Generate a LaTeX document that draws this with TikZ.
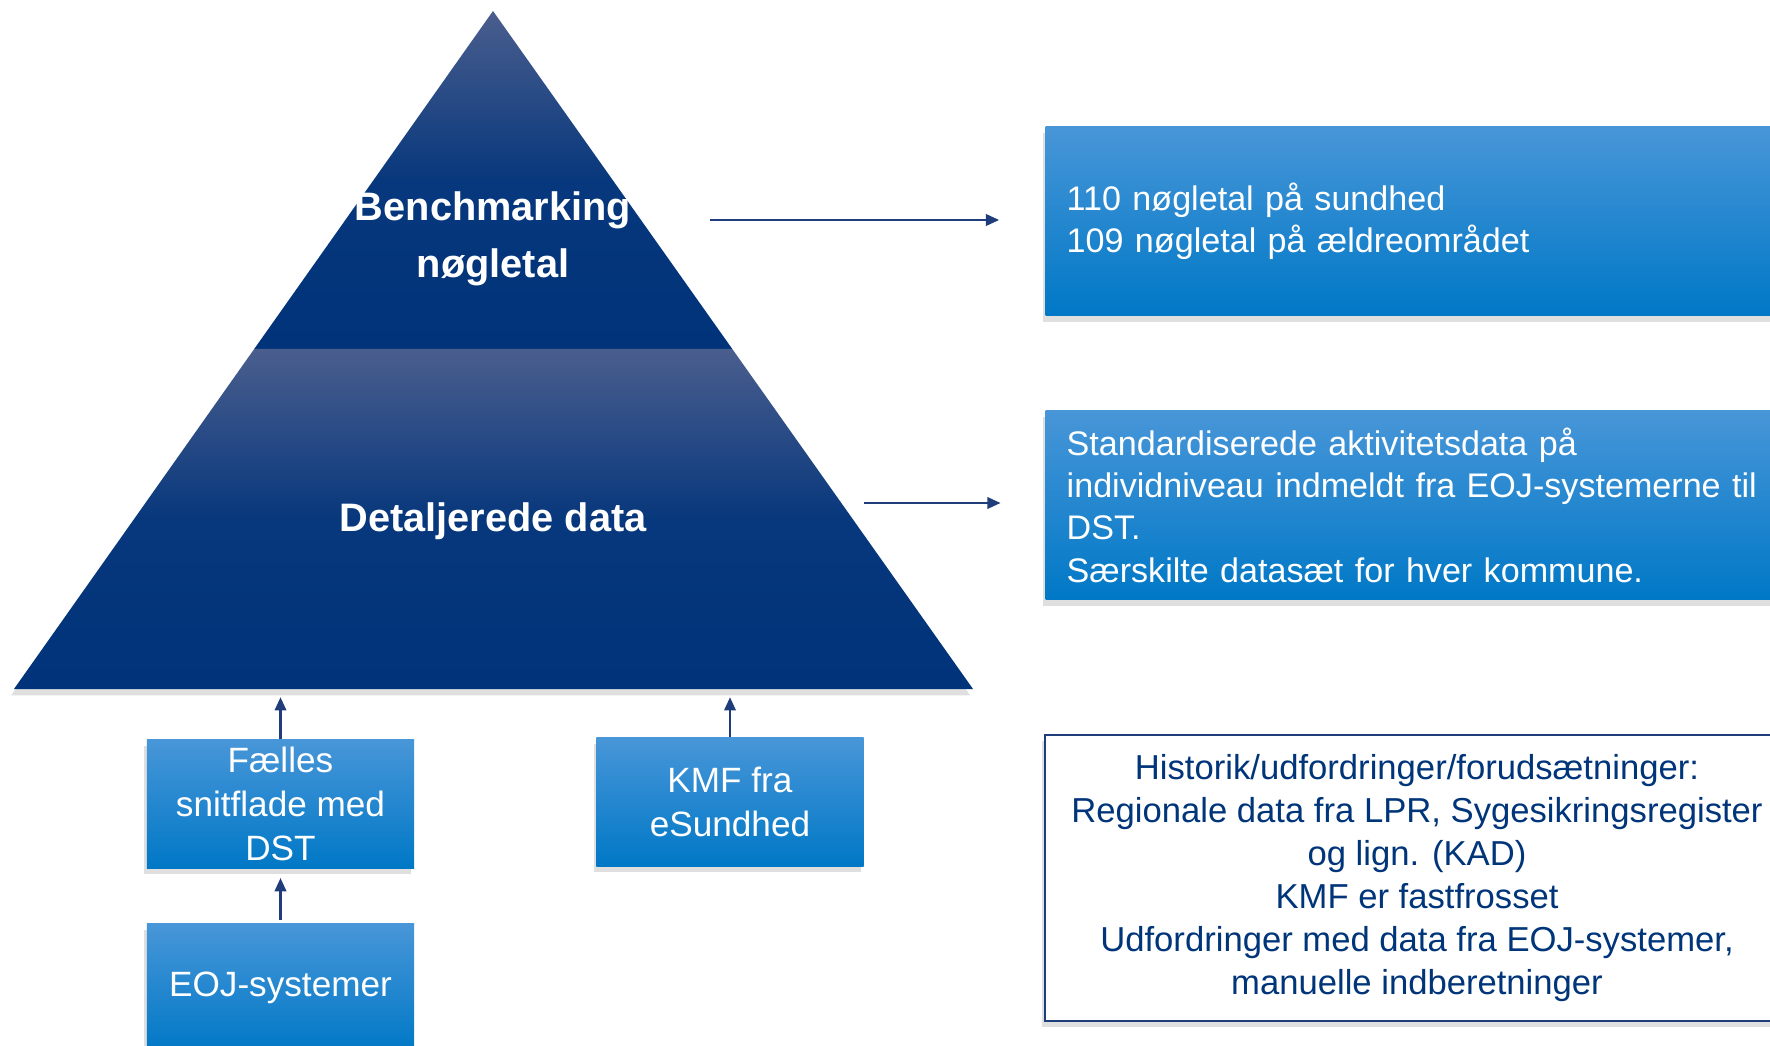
\documentclass[tikz,border=0pt]{standalone}
\usepackage{fontspec}
\setmainfont{Liberation Sans}
\usetikzlibrary{arrows.meta,calc,shadows}
\definecolor{pyrdark}{RGB}{0,51,122}
\definecolor{pyrlight}{RGB}{74,94,142}
\definecolor{boxtop}{RGB}{72,150,216}
\definecolor{boxbot}{RGB}{0,120,198}
\definecolor{linkblue}{RGB}{31,61,122}
\definecolor{notetext}{RGB}{0,53,122}
\tikzset{
    softshadow/.style={drop shadow={shadow xshift=-0.8pt,shadow yshift=-1.8pt,opacity=0.25}},
    level/.style={softshadow,top color=pyrlight,bottom color=pyrdark,middle color=pyrdark!90!pyrlight},
    leveltext/.style={text=white,align=center,font=\fontsize{11.3}{16.2}\selectfont\bfseries},
    infobox/.style={anchor=north west,minimum width=7.6cm,minimum height=1.89cm,text width=7.2cm,
        inner xsep=0.21cm,align=left,text=white,top color=boxtop,bottom color=boxbot,
        font=\fontsize{9.7}{12}\selectfont,softshadow},
    srcbox/.style={minimum width=2.67cm,minimum height=1.28cm,inner sep=0pt,align=center,text=white,
        top color=boxtop,bottom color=boxbot,font=\fontsize{10}{12.5}\selectfont,softshadow},
    notebox/.style={minimum width=7.44cm,minimum height=2.86cm,inner sep=0pt,align=center,text=notetext,
        fill=white,draw=linkblue,line width=0.6pt,font=\fontsize{9.85}{12.2}\selectfont,softshadow},
    link/.style={-{Triangle[length=3.8pt,width=3.2pt]},line width=0.8pt,linkblue}
}
\begin{document}
\begin{tikzpicture}[x=0.01cm,y=-0.01cm]
    \useasboundingbox (0,0) rectangle (1770,1046);
    % Pyramid corners
    \coordinate (apex) at (493,11);
    \coordinate (baseL) at (14,689);
    \coordinate (baseR) at (973,689);
    \coordinate (divL) at ($(apex)!0.4985!(baseL)$);
    \coordinate (divR) at ($(apex)!0.4985!(baseR)$);
    % Top level
    \shade[level] (apex) -- (divR) -- (divL) -- cycle;
    \node[leveltext] (bench) at (493,239) {Benchmarking\\nøgletal};
    % Bottom level
    \shade[level] (divL) -- (divR) -- (baseR) -- (baseL) -- cycle;
    \node[leveltext] (detail) at (493,521) {Detaljerede data};
    % Boxes on the right
    \node[infobox] (keybox) at (1045,126) {110 nøgletal på sundhed\\109 nøgletal på ældreområdet};
    \node[infobox] (databox) at (1045,410) {Standardiserede aktivitetsdata på\\individniveau indmeldt fra EOJ-systemerne til\\DST.\\Særskilte datasæt for hver kommune.};
    \node[notebox] (notes) at (1417,878) {Historik/udfordringer/forudsætninger:\\Regionale data fra LPR, Sygesikringsregister\\og lign. (KAD)\\KMF er fastfrosset\\Udfordringer med data fra EOJ-systemer,\\manuelle indberetninger};
    % Sources below
    \node[srcbox] (faelles) at (280.5,804) {Fælles\\snitflade med\\DST};
    \node[srcbox] (eoj) at (280.5,988) {EOJ-systemer};
    \node[srcbox] (kmf) at (730,802) {KMF fra\\eSundhed};
    % Arrows
    \coordinate (benchout) at (710,220);
    \coordinate (detailout) at (864,503);
    \draw[link,shorten >=13pt] (benchout) -- (benchout -| keybox.west);
    \draw[link,shorten >=12.6pt] (detailout) -- (detailout -| databox.west);
    \draw[link,shorten >=2.3pt] (faelles.north) -- (faelles.north |- baseL);
    \draw[link,shorten >=2.3pt] (kmf.north) -- (kmf.north |- baseL);
    \draw[link,shorten >=2.6pt,shorten <=1pt] (eoj.north) -- (faelles.south);
\end{tikzpicture}
\end{document}
